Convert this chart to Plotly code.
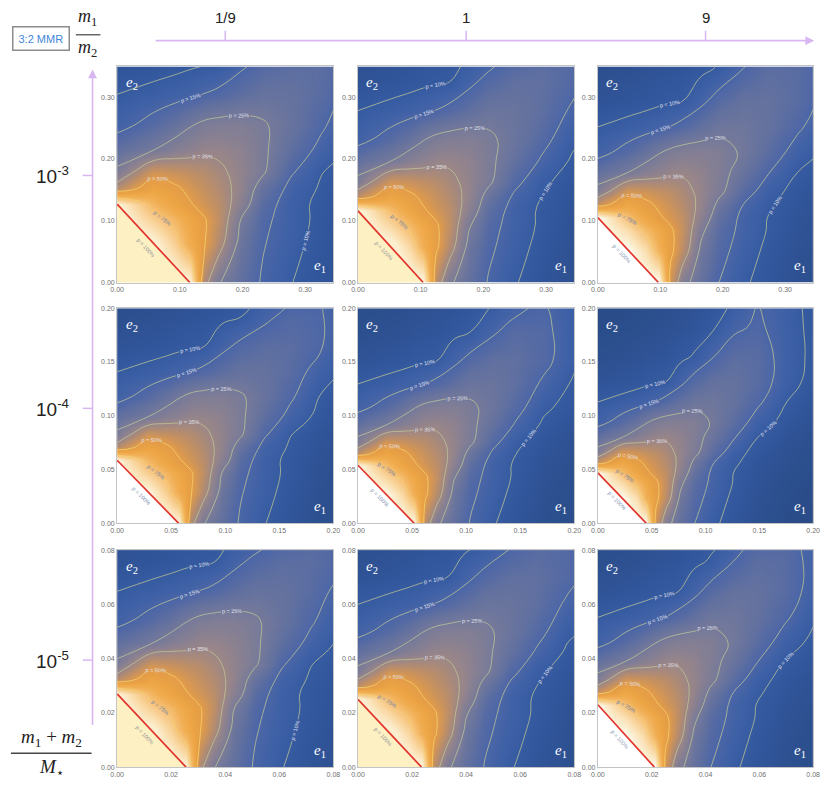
import math
import plotly.graph_objects as go

# grid in units of the critical eccentricity (e / e_crit), shared by all panels
grid_s = [0, 0.5, 0.8, 1.0, 1.2, 1.4, 1.7, 2.0, 2.4, 2.8, 3.3, 3.9, 4.5]

# stability probability p (%) on that grid, rows = e2, columns = e1
p_col1 = [
    [100, 100, 100, 95, 38, 25.5, 19.5, 14.3, 10.1, 7.5, 5.5, 4.5, 4],
    [100, 97, 80, 64, 51, 39, 22, 15.5, 11.5, 8.2, 6, 4.8, 4.2],
    [100, 80, 70, 60, 51, 42, 25, 16.5, 12, 8.8, 6.3, 5, 4.3],
    [96, 70, 58, 51, 46, 41, 30, 18, 12, 8.8, 6.5, 5.2, 4.5],
    [40, 58, 52, 47, 43, 39, 32, 21, 13, 9.5, 7, 5.5, 4.6],
    [27, 46, 44, 42, 40, 37, 32, 26, 15.5, 10.2, 7.3, 5.7, 4.8],
    [19.5, 24.5, 29, 31, 33, 33, 31, 26.5, 19, 13.5, 8.5, 6.3, 5.2],
    [13, 17.5, 21, 24.5, 27, 28, 28, 26, 21, 16, 9.7, 7, 5.6],
    [10, 11.5, 12.7, 13.7, 15.2, 16.5, 19, 21, 20.5, 18, 12.5, 7.5, 6],
    [7, 7.8, 8.4, 9, 9.5, 9.9, 13.5, 16.5, 18.5, 18.5, 15.5, 8.5, 6.5],
    [5.5, 6, 6.5, 7, 7.3, 7.7, 8.6, 9.5, 13.5, 16.5, 15.5, 9, 6.5],
    [4.5, 5, 5.2, 5.5, 5.8, 6.1, 6.6, 7.2, 8.3, 9.8, 13, 9.5, 6.5],
    [4, 4.2, 4.5, 4.7, 5, 5.3, 5.7, 6.2, 7, 8, 10, 8.5, 6.5],
]
p_col2 = [
    [100, 100, 100, 97, 41, 26.5, 20, 14.6, 10.4, 7.7, 5.7, 4.5, 4],
    [100, 98, 83, 66, 52, 40, 22.5, 16.2, 12, 8.6, 6.2, 4.9, 4.2],
    [100, 83, 71, 61, 51.5, 42.5, 26, 17.2, 12.7, 9.3, 6.6, 5.1, 4.4],
    [97, 72, 59, 51.5, 46.5, 41.5, 30.5, 19, 12.7, 9.4, 6.8, 5.4, 4.6],
    [42, 59, 52.5, 47.5, 43.5, 39.5, 32.5, 22, 14, 10.1, 7.3, 5.7, 4.8],
    [27.5, 46.5, 44.5, 42.5, 40.5, 37.5, 32.5, 26.5, 16.7, 11.1, 7.8, 6, 5],
    [19.7, 24.7, 29.2, 31.2, 33.2, 33.5, 31.5, 27, 20.2, 14.5, 9.2, 6.6, 5.4],
    [13, 17.5, 21, 24.5, 27, 28.2, 28.5, 26.5, 22, 17.2, 11, 7.6, 5.9],
    [10, 11.5, 12.7, 13.7, 15.2, 16.7, 19.5, 22, 21.7, 19.2, 14, 8.7, 6.5],
    [7, 7.8, 8.4, 9, 9.5, 10, 13.5, 17, 19.5, 19.5, 16.7, 10.5, 7.2],
    [5.5, 6, 6.5, 7, 7.3, 7.7, 8.7, 10, 14.2, 17.5, 16.7, 10.5, 7.5],
    [4.5, 5, 5.2, 5.5, 5.8, 6.1, 6.6, 7.4, 8.9, 11.5, 14.5, 10.5, 7.5],
    [4, 4.2, 4.5, 4.7, 5, 5.3, 5.7, 6.3, 7.2, 9, 11.5, 9.5, 7.2],
]
p_col3 = [
    [100, 100, 100, 99, 45, 28, 20.5, 15, 10.8, 8, 6, 4.6, 4],
    [100, 99, 86, 68, 53, 41, 23.5, 17, 12.5, 9, 6.5, 5, 4.3],
    [100, 86, 72, 62, 52, 43, 27, 18, 13.5, 9.8, 7, 5.3, 4.5],
    [99, 74, 60, 52, 47, 42, 31, 20, 13.5, 10, 7.2, 5.6, 4.7],
    [44, 60, 53, 48, 44, 40, 33, 23, 15, 10.8, 7.7, 6, 5],
    [28, 47, 45, 43, 41, 38, 33, 27, 18, 12, 8.3, 6.3, 5.2],
    [20, 25, 29.5, 31.5, 33.5, 34, 32, 28, 21.5, 15.5, 10, 7, 5.6],
    [13, 17.5, 21, 24.5, 27, 28.5, 29, 28, 24, 18.5, 12.5, 8.2, 6.2],
    [10, 11.5, 12.7, 13.7, 15.2, 17, 20, 23, 23, 20.5, 16, 10, 7],
    [7, 7.8, 8.4, 9, 9.5, 10, 13.5, 17.5, 20.5, 20.5, 18, 12, 8],
    [5.5, 6, 6.5, 7, 7.3, 7.7, 8.8, 10.5, 15, 18.5, 18, 12.5, 8.5],
    [4.5, 5, 5.2, 5.5, 5.8, 6.1, 6.7, 7.6, 9.5, 13.5, 16, 12, 8.5],
    [4, 4.2, 4.5, 4.7, 5, 5.3, 5.8, 6.4, 7.5, 10, 14.5, 12, 8],
]
p_cols = [p_col1, p_col2, p_col3]

# red line: e1 where it meets e2 = 0, e2 where it meets e1 = 0 (rows: mass sum, cols: mass ratio)
e1_crit = [[0.116, 0.104, 0.097], [0.057, 0.052, 0.045], [0.0255, 0.0235, 0.021]]
e2_crit = [[0.127, 0.116, 0.105], [0.0587, 0.054, 0.047], [0.027, 0.025, 0.023]]
white_core = [[False, False, True], [True, True, True], [False, False, True]]

row_xmax = [0.345, 0.2, 0.08]
row_ymax = [0.35, 0.2, 0.08]
row_ticks = [[0, 0.1, 0.2, 0.3], [0, 0.05, 0.1, 0.15, 0.2], [0, 0.02, 0.04, 0.06, 0.08]]

levels = [10, 15, 25, 35, 50, 75]

ratio_labels = ["1/9", "1", "9"]
mass_labels = ["10<sup>-3</sup>", "10<sup>-4</sup>", "10<sup>-5</sup>"]
mass_tick_px = [173, 408, 662]

W, H = 831, 789
col_px = [(112, 332), (357, 577), (601, 820)]
row_px = [(63, 281), (307, 524), (551, 770)]


def px(x):
    return x / W


def py(y):
    return 1 - y / H


def scale(top):
    return [
        [0.0, "#223f75"], [0.04, "#294b87"], [0.08, "#31569b"], [0.12, "#3d60a6"],
        [0.16, "#5068a6"], [0.20, "#63719f"], [0.25, "#767a9a"], [0.30, "#888092"],
        [0.35, "#9d8786"], [0.42, "#bf8f66"], [0.50, "#e49c48"], [0.58, "#eca444"],
        [0.66, "#f1ae52"], [0.75, "#f6c27a"], [0.85, "#fadcaa"], [0.93, "#fcefd2"],
        [1.0, top],
    ]


def text_ann(x, y, text, size, **kw):
    d = dict(x=x, y=y, xref="paper", yref="paper", showarrow=False, text=text,
             xanchor="center", yanchor="middle",
             font=dict(size=size, color="#222", family="Liberation Sans"))
    d.update(kw)
    return d


fig = go.Figure()
layout = dict(
    width=W, height=H, margin=dict(l=0, r=0, t=0, b=0),
    paper_bgcolor="white", plot_bgcolor="white", showlegend=False,
)
annotations = []
shapes = []

for r in range(3):
    for c in range(3):
        k = r * 3 + c
        sfx = "" if k == 0 else str(k + 1)
        xa, ya = "x" + sfx, "y" + sfx
        c1, c2 = e1_crit[r][c], e2_crit[r][c]
        xs = [s * c1 for s in grid_s]
        ys = [s * c2 for s in grid_s]
        z = p_cols[c]
        core = "#ffffff" if white_core[r][c] else "#fdf0c2"

        fig.add_trace(go.Heatmap(
            x=xs, y=ys, z=z, zmin=0, zmax=100, zsmooth="best",
            colorscale=scale(core), showscale=False, hoverinfo="skip",
            xaxis=xa, yaxis=ya,
        ))
        for lv in levels:
            warm = lv >= 50
            fig.add_trace(go.Contour(
                x=xs, y=ys, z=z, showscale=False, hoverinfo="skip",
                contours=dict(
                    start=lv, end=lv, size=100, coloring="none",
                    showlabels=True, labelformat="$.0f",
                    labelfont=dict(size=5.5, family="Liberation Sans",
                                   color="#7082a8" if lv == 75 else "#e2e4ee"),
                ),
                line=dict(color="rgba(244,212,112,0.85)" if warm else "rgba(196,204,150,0.8)",
                          width=0.9, smoothing=1.3),
                xaxis=xa, yaxis=ya,
            ))
        fig.add_trace(go.Scatter(
            x=[0, c1, 0, 0], y=[0, 0, c2, 0], mode="lines", fill="toself",
            fillcolor=core, line=dict(width=0), hoverinfo="skip",
            xaxis=xa, yaxis=ya,
        ))
        fig.add_trace(go.Scatter(
            x=[0, c1], y=[c2, 0], mode="lines",
            line=dict(color="#e2342c", width=1.7), hoverinfo="skip",
            xaxis=xa, yaxis=ya,
        ))

        x0, x1 = col_px[c]
        y0, y1 = row_px[r]
        common = dict(
            showline=True, mirror=True, linecolor="#c4c4c4", linewidth=1,
            showgrid=False, zeroline=False, ticks="", tickformat=".2f",
            tickfont=dict(size=7, color="#707070", family="Liberation Sans"),
            tickvals=row_ticks[r],
        )
        layout["xaxis" + sfx] = dict(common, domain=[px(x0), px(x1)],
                                     range=[0, row_xmax[r]], anchor=ya)
        layout["yaxis" + sfx] = dict(common, domain=[py(y1), py(y0)],
                                     range=[0, row_ymax[r]], anchor=xa)

        # p = 100% label inside the triangle, parallel to the red line
        wpx = c1 / row_xmax[r] * (x1 - x0)
        hpx = c2 / row_ymax[r] * (y1 - y0)
        annotations.append(dict(
            x=0.4 * c1, y=0.44 * c2, xref=xa, yref=ya, showarrow=False,
            xanchor="center", yanchor="middle",
            text="p = 100%", textangle=math.degrees(math.atan2(hpx, wpx)),
            font=dict(size=5.5, family="Liberation Sans",
                      color="#7d8fb2" if white_core[r][c] else "#8a8c98"),
        ))
        annotations.append(dict(
            x=0.03, y=0.975, xref=xa + " domain", yref=ya + " domain",
            xanchor="left", yanchor="top", showarrow=False,
            text="<i>e</i><sub>2</sub>",
            font=dict(size=15, color="white", family="Liberation Serif"),
        ))
        annotations.append(dict(
            x=0.975, y=0.025, xref=xa + " domain", yref=ya + " domain",
            xanchor="right", yanchor="bottom", showarrow=False,
            text="<i>e</i><sub>1</sub>",
            font=dict(size=15, color="white", family="Liberation Serif"),
        ))

lav = "#d8b6f2"
# mass ratio axis (top)
annotations.append(dict(
    x=px(821), y=py(37), xref="paper", yref="paper", ax=-660, ay=0,
    showarrow=True, arrowhead=2, arrowsize=1.1, arrowwidth=1.6, arrowcolor=lav, text="",
))
for c, lab in enumerate(ratio_labels):
    xc = (col_px[c][0] + col_px[c][1]) / 2
    shapes.append(dict(type="line", xref="paper", yref="paper",
                       x0=px(xc), x1=px(xc), y0=py(27), y1=py(37),
                       line=dict(color=lav, width=1.5)))
    annotations.append(text_ann(px(xc), py(14), lab, 15))

# mass sum axis (left)
annotations.append(dict(
    x=px(87), y=py(66), xref="paper", yref="paper", ax=0, ay=657,
    showarrow=True, arrowhead=2, arrowsize=1.1, arrowwidth=1.6, arrowcolor=lav, text="",
))
for r, lab in enumerate(mass_labels):
    yc = mass_tick_px[r]
    shapes.append(dict(type="line", xref="paper", yref="paper",
                       x0=px(77), x1=px(87), y0=py(yc), y1=py(yc),
                       line=dict(color=lav, width=1.5)))
    annotations.append(text_ann(px(46), py(yc), lab, 19))

serif = dict(color="#222", family="Liberation Serif")
# m1/m2 fraction
annotations.append(text_ann(px(82), py(14), "<i>m</i><sub>1</sub>", 18,
                            font=dict(serif, size=18)))
shapes.append(dict(type="line", xref="paper", yref="paper", x0=px(70), x1=px(95),
                   y0=py(31), y1=py(31), line=dict(color="#666", width=1.5)))
annotations.append(text_ann(px(82), py(45), "<i>m</i><sub>2</sub>", 18,
                            font=dict(serif, size=18)))
# (m1+m2)/M* fraction
annotations.append(text_ann(px(45), py(741), "<i>m</i><sub>1</sub> + <i>m</i><sub>2</sub>", 19,
                            font=dict(serif, size=19)))
shapes.append(dict(type="line", xref="paper", yref="paper", x0=px(4), x1=px(86),
                   y0=py(756), y1=py(756), line=dict(color="#444", width=1.5)))
annotations.append(text_ann(px(45), py(771), "<i>M</i><sub>⋆</sub>", 19,
                            font=dict(serif, size=19)))

# resonance tag
annotations.append(text_ann(px(35), py(35), "3:2 MMR", 11,
                            bordercolor="#8c8c8c", borderwidth=1.5, borderpad=5,
                            bgcolor="white",
                            font=dict(size=11, color="#3f86d8", family="Liberation Sans")))

layout["annotations"] = annotations
layout["shapes"] = shapes
fig.update_layout(**layout)

fig.write_html(
    "out.html",
    config={
        "displayModeBar": False,
        "locale": "pp",
        "locales": {"pp": {"format": {"currency": ["p = ", "%"]}}},
    },
    post_script="document.body.style.margin='0';document.body.style.overflow='hidden';",
)
